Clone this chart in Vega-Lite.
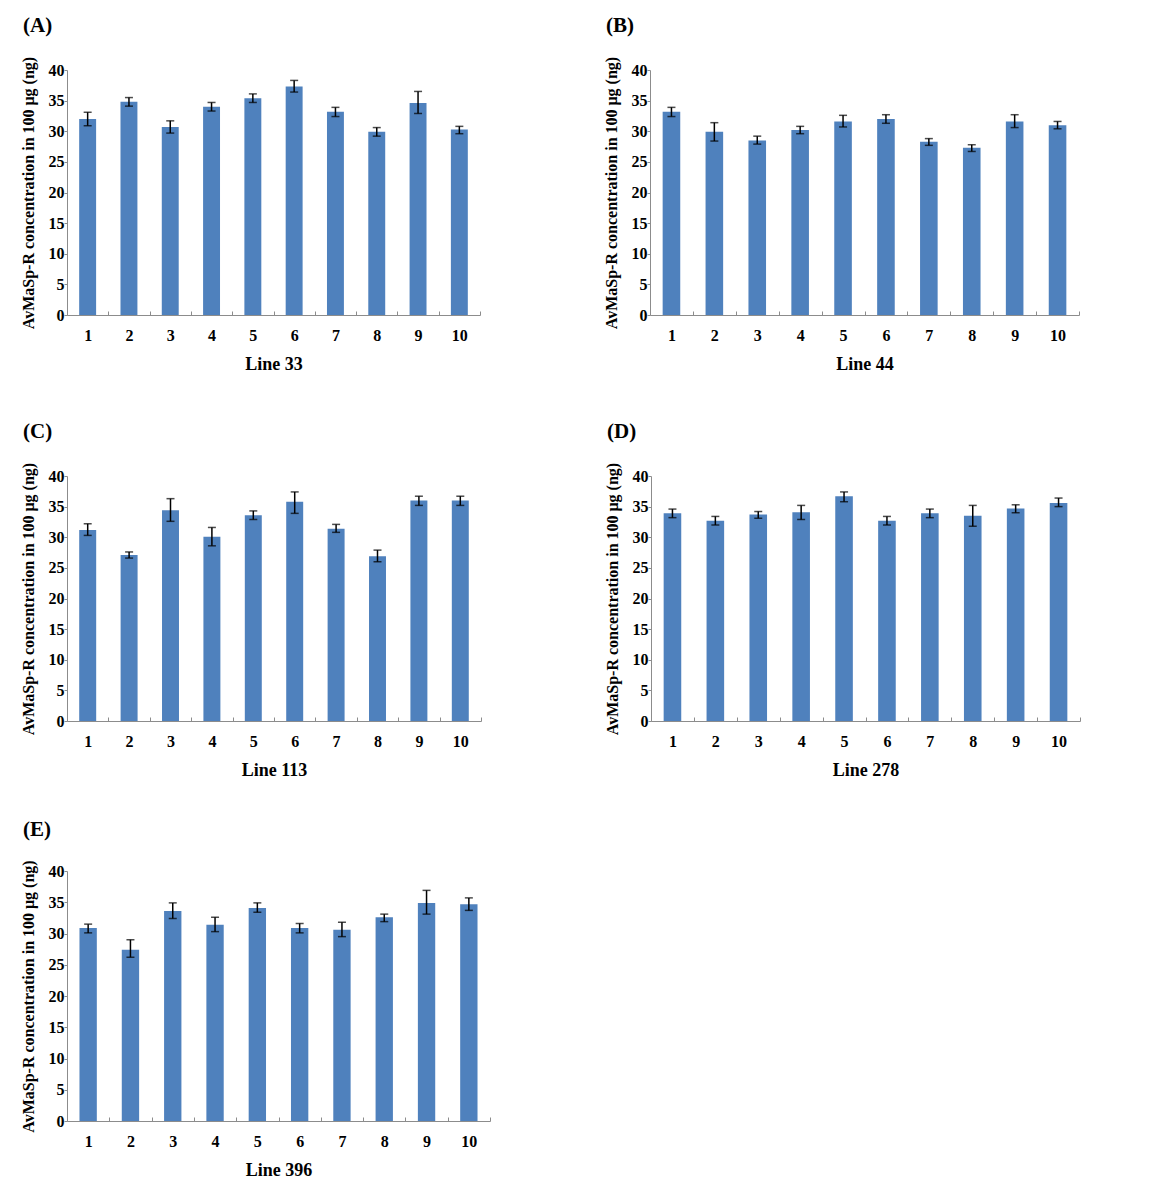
{
  "$schema": "https://vega.github.io/schema/vega-lite/v6.json",
  "background": "white",
  "padding": {"left": 19, "top": 15, "right": 5, "bottom": 5},
  "config": {
    "font": "Liberation Serif",
    "view": {"stroke": null},
    "axis": {"labelFont": "Liberation Serif", "labelFontWeight": "bold", "labelColor": "black", "titleFont": "Liberation Serif", "titleFontWeight": "bold", "titleColor": "black", "domainColor": "#8c8c8c", "tickColor": "#8c8c8c", "grid": false, "labelOverlap": false},
    "axisY": {"tickSize": 3, "labelFontSize": 16, "titleFontSize": 16, "labelPadding": 0, "titlePadding": 12},
    "axisX": {"labelAngle": 0, "labelFontSize": 16, "titleFontSize": 18, "tickBand": "extent", "tickSize": -4, "labelPadding": 16, "titlePadding": 12},
    "title": {"font": "Liberation Serif", "fontSize": 21, "fontWeight": "bold", "color": "black", "anchor": "start", "frame": "group", "dx": -44, "offset": 16}
  },
  "spacing": 39,
  "vconcat": [
    {
      "spacing": 48,
      "vconcat": [
        {
          "spacing": 121,
          "hconcat": [
            {
              "title": {"text": "(A)"},
              "width": 413, "height": 245,
              "data": {"values": [
                {"plant": 1, "mean": 32.0, "lo": 30.9, "hi": 33.1},
                {"plant": 2, "mean": 34.8, "lo": 34.1, "hi": 35.5},
                {"plant": 3, "mean": 30.7, "lo": 29.7, "hi": 31.7},
                {"plant": 4, "mean": 34.0, "lo": 33.3, "hi": 34.7},
                {"plant": 5, "mean": 35.4, "lo": 34.7, "hi": 36.1},
                {"plant": 6, "mean": 37.3, "lo": 36.4, "hi": 38.3},
                {"plant": 7, "mean": 33.2, "lo": 32.4, "hi": 33.9},
                {"plant": 8, "mean": 29.9, "lo": 29.2, "hi": 30.6},
                {"plant": 9, "mean": 34.6, "lo": 32.9, "hi": 36.5},
                {"plant": 10, "mean": 30.3, "lo": 29.6, "hi": 30.8}
              ]},
              "encoding": {"x": {"field": "plant", "type": "ordinal", "sort": null, "scale": {"paddingInner": 0, "paddingOuter": 0}, "axis": {"title": "Line 33"}}},
              "layer": [
                {"mark": {"type": "bar", "width": {"band": 0.41}, "color": "#4F81BD"}, "encoding": {"y": {"field": "mean", "type": "quantitative", "scale": {"domain": [0, 40]}, "axis": {"values": [0, 5, 10, 15, 20, 25, 30, 35, 40], "title": "AvMaSp-R  concentration  in 100 μg (ng)"}}}},
                {"mark": {"type": "rule", "color": "black", "strokeWidth": 1.5}, "encoding": {"y": {"field": "lo", "type": "quantitative", "axis": {"values": [0, 5, 10, 15, 20, 25, 30, 35, 40], "title": "AvMaSp-R  concentration  in 100 μg (ng)"}}, "y2": {"field": "hi"}}},
                {"mark": {"type": "tick", "color": "black", "thickness": 1.5, "size": 8}, "encoding": {"y": {"field": "lo", "type": "quantitative", "axis": {"values": [0, 5, 10, 15, 20, 25, 30, 35, 40], "title": "AvMaSp-R  concentration  in 100 μg (ng)"}}}},
                {"mark": {"type": "tick", "color": "black", "thickness": 1.5, "size": 8}, "encoding": {"y": {"field": "hi", "type": "quantitative", "axis": {"values": [0, 5, 10, 15, 20, 25, 30, 35, 40], "title": "AvMaSp-R  concentration  in 100 μg (ng)"}}}}
              ]
            },
            {
              "title": {"text": "(B)"},
              "width": 429, "height": 245,
              "data": {"values": [
                {"plant": 1, "mean": 33.2, "lo": 32.4, "hi": 33.9},
                {"plant": 2, "mean": 29.9, "lo": 28.4, "hi": 31.4},
                {"plant": 3, "mean": 28.5, "lo": 27.9, "hi": 29.2},
                {"plant": 4, "mean": 30.2, "lo": 29.6, "hi": 30.8},
                {"plant": 5, "mean": 31.6, "lo": 30.7, "hi": 32.6},
                {"plant": 6, "mean": 32.0, "lo": 31.3, "hi": 32.7},
                {"plant": 7, "mean": 28.3, "lo": 27.7, "hi": 28.8},
                {"plant": 8, "mean": 27.3, "lo": 26.7, "hi": 27.8},
                {"plant": 9, "mean": 31.6, "lo": 30.6, "hi": 32.7},
                {"plant": 10, "mean": 31.0, "lo": 30.4, "hi": 31.6}
              ]},
              "encoding": {"x": {"field": "plant", "type": "ordinal", "sort": null, "scale": {"paddingInner": 0, "paddingOuter": 0}, "axis": {"title": "Line 44"}}},
              "layer": [
                {"mark": {"type": "bar", "width": {"band": 0.41}, "color": "#4F81BD"}, "encoding": {"y": {"field": "mean", "type": "quantitative", "scale": {"domain": [0, 40]}, "axis": {"values": [0, 5, 10, 15, 20, 25, 30, 35, 40], "title": "AvMaSp-R  concentration  in 100 μg (ng)"}}}},
                {"mark": {"type": "rule", "color": "black", "strokeWidth": 1.5}, "encoding": {"y": {"field": "lo", "type": "quantitative", "axis": {"values": [0, 5, 10, 15, 20, 25, 30, 35, 40], "title": "AvMaSp-R  concentration  in 100 μg (ng)"}}, "y2": {"field": "hi"}}},
                {"mark": {"type": "tick", "color": "black", "thickness": 1.5, "size": 8}, "encoding": {"y": {"field": "lo", "type": "quantitative", "axis": {"values": [0, 5, 10, 15, 20, 25, 30, 35, 40], "title": "AvMaSp-R  concentration  in 100 μg (ng)"}}}},
                {"mark": {"type": "tick", "color": "black", "thickness": 1.5, "size": 8}, "encoding": {"y": {"field": "hi", "type": "quantitative", "axis": {"values": [0, 5, 10, 15, 20, 25, 30, 35, 40], "title": "AvMaSp-R  concentration  in 100 μg (ng)"}}}}
              ]
            }
          ]
        },
        {
          "spacing": 121,
          "hconcat": [
            {
              "title": {"text": "(C)"},
              "width": 414, "height": 245,
              "data": {"values": [
                {"plant": 1, "mean": 31.2, "lo": 30.3, "hi": 32.2},
                {"plant": 2, "mean": 27.1, "lo": 26.6, "hi": 27.6},
                {"plant": 3, "mean": 34.4, "lo": 32.6, "hi": 36.3},
                {"plant": 4, "mean": 30.1, "lo": 28.6, "hi": 31.6},
                {"plant": 5, "mean": 33.6, "lo": 32.9, "hi": 34.3},
                {"plant": 6, "mean": 35.8, "lo": 33.9, "hi": 37.4},
                {"plant": 7, "mean": 31.4, "lo": 30.8, "hi": 32.1},
                {"plant": 8, "mean": 26.9, "lo": 26.0, "hi": 27.9},
                {"plant": 9, "mean": 36.0, "lo": 35.2, "hi": 36.7},
                {"plant": 10, "mean": 36.0, "lo": 35.2, "hi": 36.7}
              ]},
              "encoding": {"x": {"field": "plant", "type": "ordinal", "sort": null, "scale": {"paddingInner": 0, "paddingOuter": 0}, "axis": {"title": "Line 113"}}},
              "layer": [
                {"mark": {"type": "bar", "width": {"band": 0.41}, "color": "#4F81BD"}, "encoding": {"y": {"field": "mean", "type": "quantitative", "scale": {"domain": [0, 40]}, "axis": {"values": [0, 5, 10, 15, 20, 25, 30, 35, 40], "title": "AvMaSp-R  concentration  in 100 μg (ng)"}}}},
                {"mark": {"type": "rule", "color": "black", "strokeWidth": 1.5}, "encoding": {"y": {"field": "lo", "type": "quantitative", "axis": {"values": [0, 5, 10, 15, 20, 25, 30, 35, 40], "title": "AvMaSp-R  concentration  in 100 μg (ng)"}}, "y2": {"field": "hi"}}},
                {"mark": {"type": "tick", "color": "black", "thickness": 1.5, "size": 8}, "encoding": {"y": {"field": "lo", "type": "quantitative", "axis": {"values": [0, 5, 10, 15, 20, 25, 30, 35, 40], "title": "AvMaSp-R  concentration  in 100 μg (ng)"}}}},
                {"mark": {"type": "tick", "color": "black", "thickness": 1.5, "size": 8}, "encoding": {"y": {"field": "hi", "type": "quantitative", "axis": {"values": [0, 5, 10, 15, 20, 25, 30, 35, 40], "title": "AvMaSp-R  concentration  in 100 μg (ng)"}}}}
              ]
            },
            {
              "title": {"text": "(D)"},
              "width": 429, "height": 245,
              "data": {"values": [
                {"plant": 1, "mean": 33.9, "lo": 33.2, "hi": 34.6},
                {"plant": 2, "mean": 32.7, "lo": 32.0, "hi": 33.4},
                {"plant": 3, "mean": 33.7, "lo": 33.1, "hi": 34.2},
                {"plant": 4, "mean": 34.1, "lo": 32.9, "hi": 35.2},
                {"plant": 5, "mean": 36.7, "lo": 35.8, "hi": 37.4},
                {"plant": 6, "mean": 32.7, "lo": 32.0, "hi": 33.4},
                {"plant": 7, "mean": 33.9, "lo": 33.2, "hi": 34.6},
                {"plant": 8, "mean": 33.5, "lo": 31.8, "hi": 35.2},
                {"plant": 9, "mean": 34.7, "lo": 34.0, "hi": 35.3},
                {"plant": 10, "mean": 35.6, "lo": 35.0, "hi": 36.4}
              ]},
              "encoding": {"x": {"field": "plant", "type": "ordinal", "sort": null, "scale": {"paddingInner": 0, "paddingOuter": 0}, "axis": {"title": "Line 278"}}},
              "layer": [
                {"mark": {"type": "bar", "width": {"band": 0.41}, "color": "#4F81BD"}, "encoding": {"y": {"field": "mean", "type": "quantitative", "scale": {"domain": [0, 40]}, "axis": {"values": [0, 5, 10, 15, 20, 25, 30, 35, 40], "title": "AvMaSp-R  concentration  in 100 μg (ng)"}}}},
                {"mark": {"type": "rule", "color": "black", "strokeWidth": 1.5}, "encoding": {"y": {"field": "lo", "type": "quantitative", "axis": {"values": [0, 5, 10, 15, 20, 25, 30, 35, 40], "title": "AvMaSp-R  concentration  in 100 μg (ng)"}}, "y2": {"field": "hi"}}},
                {"mark": {"type": "tick", "color": "black", "thickness": 1.5, "size": 8}, "encoding": {"y": {"field": "lo", "type": "quantitative", "axis": {"values": [0, 5, 10, 15, 20, 25, 30, 35, 40], "title": "AvMaSp-R  concentration  in 100 μg (ng)"}}}},
                {"mark": {"type": "tick", "color": "black", "thickness": 1.5, "size": 8}, "encoding": {"y": {"field": "hi", "type": "quantitative", "axis": {"values": [0, 5, 10, 15, 20, 25, 30, 35, 40], "title": "AvMaSp-R  concentration  in 100 μg (ng)"}}}}
              ]
            }
          ]
        }
      ]
    },
    {
      "title": {"text": "(E)"},
      "width": 423, "height": 250,
      "data": {"values": [
        {"plant": 1, "mean": 30.9, "lo": 30.1, "hi": 31.5},
        {"plant": 2, "mean": 27.4, "lo": 26.2, "hi": 29.0},
        {"plant": 3, "mean": 33.6, "lo": 32.4, "hi": 34.9},
        {"plant": 4, "mean": 31.4, "lo": 30.3, "hi": 32.6},
        {"plant": 5, "mean": 34.1, "lo": 33.4, "hi": 34.9},
        {"plant": 6, "mean": 30.9, "lo": 30.1, "hi": 31.6},
        {"plant": 7, "mean": 30.6, "lo": 29.5, "hi": 31.8},
        {"plant": 8, "mean": 32.6, "lo": 31.9, "hi": 33.1},
        {"plant": 9, "mean": 34.9, "lo": 33.1, "hi": 36.9},
        {"plant": 10, "mean": 34.7, "lo": 33.7, "hi": 35.7}
      ]},
      "encoding": {"x": {"field": "plant", "type": "ordinal", "sort": null, "scale": {"paddingInner": 0, "paddingOuter": 0}, "axis": {"title": "Line 396"}}},
      "layer": [
        {"mark": {"type": "bar", "width": {"band": 0.41}, "color": "#4F81BD"}, "encoding": {"y": {"field": "mean", "type": "quantitative", "scale": {"domain": [0, 40]}, "axis": {"values": [0, 5, 10, 15, 20, 25, 30, 35, 40], "title": "AvMaSp-R  concentration  in 100 μg (ng)"}}}},
        {"mark": {"type": "rule", "color": "black", "strokeWidth": 1.5}, "encoding": {"y": {"field": "lo", "type": "quantitative", "axis": {"values": [0, 5, 10, 15, 20, 25, 30, 35, 40], "title": "AvMaSp-R  concentration  in 100 μg (ng)"}}, "y2": {"field": "hi"}}},
        {"mark": {"type": "tick", "color": "black", "thickness": 1.5, "size": 8}, "encoding": {"y": {"field": "lo", "type": "quantitative", "axis": {"values": [0, 5, 10, 15, 20, 25, 30, 35, 40], "title": "AvMaSp-R  concentration  in 100 μg (ng)"}}}},
        {"mark": {"type": "tick", "color": "black", "thickness": 1.5, "size": 8}, "encoding": {"y": {"field": "hi", "type": "quantitative", "axis": {"values": [0, 5, 10, 15, 20, 25, 30, 35, 40], "title": "AvMaSp-R  concentration  in 100 μg (ng)"}}}}
      ]
    }
  ]
}
